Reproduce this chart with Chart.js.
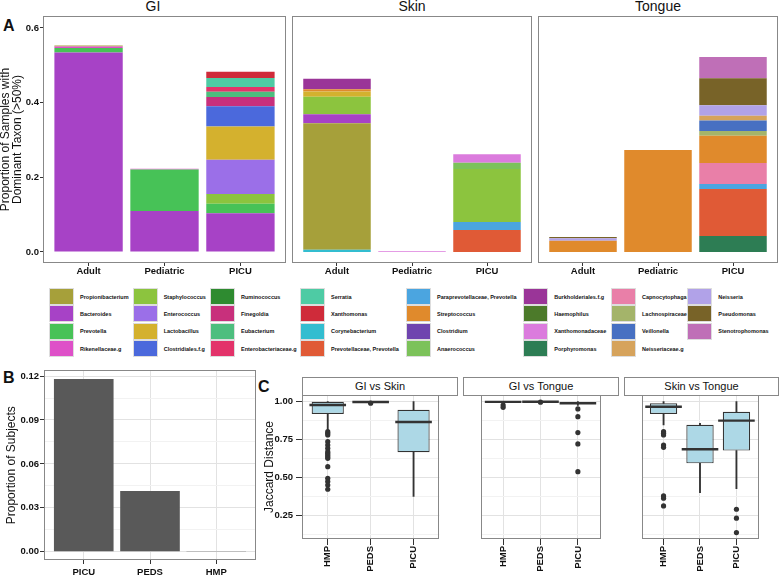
<!DOCTYPE html>
<html>
<head>
<meta charset="utf-8">
<script src="https://cdn.jsdelivr.net/npm/chart.js@4.4.0/dist/chart.umd.min.js"></script>
<style>
    body { margin: 0; background: #fff; }
    #fig { position: relative; width: 779px; height: 577px; overflow: hidden; font-family: 'Liberation Sans', Arial, Helvetica, sans-serif; color: #111; }
    #fig canvas { position: absolute; }
    .tag { position: absolute; font-size: 16px; font-weight: bold; line-height: 18px; }
    .facet { position: absolute; width: 100px; text-align: center; font-size: 14px; line-height: 14px; }
    .strip { position: absolute; top: 377px; height: 19px; box-sizing: border-box; border: 1px solid #888; background: #fff; text-align: center; font-size: 11px; line-height: 17px; }
    #legend { position: absolute; left: 49px; top: 288px; display: grid; grid-auto-flow: column; grid-template-rows: repeat(4, 17.33px); grid-template-columns: 83.7px 77.3px 90px 106px 117.3px 87.7px 76.3px 80px; }
    .item { display: flex; align-items: center; }
    .key { width: 25px; height: 17px; box-sizing: border-box; border: 1px solid #ddd; flex: none; }
    .name { margin-left: 6px; font-size: 5.5px; font-weight: bold; white-space: nowrap; }
</style>
</head>
<body>
<div id="fig">
    <div class="tag" style="left:3px;top:17px">A</div>
    <div class="tag" style="left:3px;top:369px">B</div>
    <div class="tag" style="left:258px;top:378px">C</div>
    <div class="facet" style="left:103px;top:-1px">GI</div>
    <div class="facet" style="left:362px;top:-1px">Skin</div>
    <div class="facet" style="left:608px;top:-1px">Tongue</div>
    <div class="strip" style="left:302px;width:156px">GI vs Skin</div>
    <div class="strip" style="left:463px;width:156px">GI vs Tongue</div>
    <div class="strip" style="left:624px;width:155px">Skin vs Tongue</div>
    <div id="legend"></div>
</div>
<script>
// ---- panel A: dominant taxon per site ----
const groups = ['Adult', 'Pediatric', 'PICU'];
const aTickValues = [0, 0.2, 0.4, 0.6];
const aTickLabels = ['0.0', '0.2', '0.4', '0.6'];

const taxa = [
    'Propionibacterium', 'Bacteroides', 'Prevotella', 'Rikenellaceae.g',
    'Staphylococcus', 'Enterococcus', 'Lactobacillus', 'Clostridiales.f.g',
    'Ruminococcus', 'Finegoldia', 'Eubacterium', 'Enterobacteriaceae.g',
    'Serratia', 'Xanthomonas', 'Corynebacterium', 'Prevotellaceae, Prevotella',
    'Paraprevotellaceae, Prevotella', 'Streptococcus', 'Clostridium', 'Anaerococcus',
    'Burkholderiales.f.g', 'Haemophilus', 'Xanthomonadaceae', 'Porphyromonas',
    'Capnocytophaga', 'Lachnospiraceae.g', 'Veillonella', 'Neisseriaceae.g',
    'Neisseria', 'Pseudomonas', 'Stenotrophomonas'
];
const taxonColors = [
    '#A6A03A', '#A742C6', '#47C257', '#DE50C8',
    '#8CC43E', '#9B6FE8', '#D4B12E', '#4B69DC',
    '#2E8B30', '#C8307C', '#4DBE7E', '#E3336A',
    '#4ECBA4', '#CF2B3A', '#33BDD0', '#E05A36',
    '#4BA5E0', '#E08A2C', '#6F44AF', '#7CC25A',
    '#9A3598', '#4C7A2A', '#DB7BDD', '#2D7D54',
    '#E97FA8', '#A4B46A', '#4770C2', '#D6A35C',
    '#B1A2E8', '#786328', '#BF6FB7'
];

// stacked bottom to top: [taxon, Adult, Pediatric, PICU]
const giLayers = [
    ['Bacteroides', 0.534, 0.110, 0.104],
    ['Prevotella', 0.012, 0.111, 0.025],
    ['Rikenellaceae.g', 0.004, 0.002, 0],
    ['Propionibacterium', 0.003, 0, 0],
    ['Staphylococcus', 0, 0, 0.026],
    ['Enterococcus', 0, 0, 0.092],
    ['Lactobacillus', 0, 0, 0.089],
    ['Clostridiales.f.g', 0, 0, 0.054],
    ['Finegoldia', 0, 0, 0.025],
    ['Eubacterium', 0, 0, 0.014],
    ['Enterobacteriaceae.g', 0, 0, 0.013],
    ['Serratia', 0, 0, 0.024],
    ['Xanthomonas', 0, 0, 0.017]
];
const skinLayers = [
    ['Corynebacterium', 0.006, 0, 0],
    ['Prevotellaceae, Prevotella', 0, 0, 0.059],
    ['Paraprevotellaceae, Prevotella', 0, 0, 0.021],
    ['Propionibacterium', 0.339, 0, 0],
    ['Bacteroides', 0.024, 0, 0],
    ['Staphylococcus', 0.047, 0, 0.142],
    ['Anaerococcus', 0, 0, 0.017],
    ['Lactobacillus', 0.014, 0, 0],
    ['Streptococcus', 0.006, 0, 0],
    ['Burkholderiales.f.g', 0.028, 0, 0],
    ['Xanthomonadaceae', 0, 0.002, 0.023]
];
const tongueLayers = [
    ['Porphyromonas', 0, 0, 0.043],
    ['Prevotellaceae, Prevotella', 0, 0, 0.126],
    ['Paraprevotellaceae, Prevotella', 0, 0, 0.013],
    ['Capnocytophaga', 0, 0, 0.056],
    ['Streptococcus', 0.030, 0.273, 0.073],
    ['Lachnospiraceae.g', 0, 0, 0.013],
    ['Veillonella', 0, 0, 0.028],
    ['Neisseriaceae.g', 0, 0, 0.013],
    ['Neisseria', 0.007, 0, 0.028],
    ['Pseudomonas', 0.003, 0, 0.072],
    ['Stenotrophomonas', 0, 0, 0.057]
];

// ---- panel B ----
const bGroups = ['PICU', 'PEDS', 'HMP'];
const bValues = [0.118, 0.0415, 0.0005];
const bTickValues = [0, 0.03, 0.06, 0.09, 0.12];
const bTickLabels = ['0.00', '0.03', '0.06', '0.09', '0.12'];

// ---- panel C: [lower whisker, q1, median, q3, upper whisker] per group ----
const cGroups = ['HMP', 'PEDS', 'PICU'];
const cTickValues = [0.25, 0.5, 0.75, 1.0];
const cTickLabels = ['0.25', '0.50', '0.75', '1.00'];

const giSkinStats = [[0.81, 0.919, 0.978, 1.0, 1.0], [0.993, 0.996, 0.998, 1.0, 1.0], [0.374, 0.666, 0.866, 0.947, 1.0]];
const giSkinOutliers = [[0.802, 0.791, 0.78, 0.736, 0.714, 0.692, 0.67, 0.659, 0.648, 0.637, 0.626, 0.571, 0.494, 0.473, 0.45, 0.422], [0.99], []];
const giTongueStats = [[0.985, 0.995, 0.999, 1.0, 1.0], [0.997, 0.999, 1.0, 1.0, 1.0], [0.975, 0.985, 0.99, 0.995, 1.0]];
const giTongueOutliers = [[0.978, 0.963], [0.997], [0.952, 0.901, 0.796, 0.721, 0.538]];
const skinTongueStats = [[0.846, 0.919, 0.967, 0.989, 1.0], [0.40, 0.593, 0.686, 0.848, 0.857], [0.426, 0.677, 0.875, 0.934, 1.0]];
const skinTongueOutliers = [[0.802, 0.791, 0.78, 0.714, 0.699, 0.378, 0.363, 0.312], [], [0.29, 0.231, 0.136]];

Chart.defaults.font.family = "'Liberation Sans', Arial, Helvetica, sans-serif";
Chart.defaults.font.size = 9.5;
Chart.defaults.font.weight = 'bold';
Chart.defaults.color = '#111';
Chart.defaults.animation = false;
Chart.defaults.events = [];
Chart.defaults.plugins.legend.display = false;
Chart.defaults.plugins.tooltip.enabled = false;

const fig = document.getElementById('fig');

// grey frame round the plotting area, like the ggplot panel border
const panelBorder = {
    id: 'panelBorder',
    afterDatasetsDraw(chart) {
        const { ctx, chartArea: a } = chart;
        ctx.save();
        ctx.strokeStyle = '#888';
        ctx.lineWidth = 1;
        ctx.strokeRect(Math.round(a.left) + 0.5, Math.round(a.top) + 0.5,
            Math.round(a.right - a.left) - 1, Math.round(a.bottom - a.top) - 1);
        ctx.restore();
    }
};

function addCanvas(left, top, w, h) {
    const c = document.createElement('canvas');
    c.width = w;
    c.height = h;
    c.style.left = left + 'px';
    c.style.top = top + 'px';
    c.style.width = w + 'px';
    c.style.height = h + 'px';
    fig.appendChild(c);
    return c;
}

function fixedTicks(values, labels, withMinor) {
    return scale => {
        const t = values.map((v, i) => ({ value: v, text: labels[i], minor: false }));
        if (withMinor) {
            const step = values[1] - values[0];
            [values[0] - step / 2].concat(values.map(v => v + step / 2))
                .filter(v => v > scale.min && v < scale.max)
                .forEach(v => t.push({ value: v, text: '', minor: true }));
        }
        t.sort((p, q) => p.value - q.value);
        scale.ticks = t;
    };
}

const tickText = (v, i, t) => t[i].text;
const gridColor = c => (c.tick && c.tick.minor ? '#F2F2F2' : '#E2E2E2');
const tickMarkColor = c => (c.tick && c.tick.minor ? 'rgba(0,0,0,0)' : '#333');
const titleFont = { size: 12, lineHeight: 1, weight: 'normal' };

function categoryAxis(labels, o) {
    return {
        type: 'linear', min: 0.4, max: 3.6, offset: false, stacked: o.stacked,
        afterBuildTicks: fixedTicks([1, 2, 3], labels, false),
        afterFit: s => { s.height = o.height; },
        ticks: { autoSkip: false, minRotation: o.rotate || 0, maxRotation: o.rotate || 0, padding: o.pad, callback: tickText },
        grid: { offset: false, drawOnChartArea: o.grid, color: '#E2E2E2', tickLength: o.tick, tickColor: '#333' },
        border: { display: false }
    };
}

function stackedFacet(canvas, layers, o) {
    const datasets = layers.map(row => ({
        label: row[0],
        data: groups.map((g, i) => ({ x: i + 1, y: row[i + 1] })),
        backgroundColor: taxonColors[taxa.indexOf(row[0])],
        borderWidth: 0,
        barPercentage: 0.9,
        categoryPercentage: 1
    }));
    return new Chart(canvas, {
        type: 'bar',
        data: { datasets },
        plugins: [panelBorder],
        options: {
            responsive: false,
            layout: { padding: o.padding },
            scales: {
                x: categoryAxis(groups, { stacked: true, height: 22, pad: 0, tick: 3, grid: false }),
                y: {
                    type: 'linear', min: -0.0295, max: 0.632, stacked: true, display: o.showY,
                    afterBuildTicks: fixedTicks(aTickValues, aTickLabels, false),
                    afterFit: s => { s.width = o.showY ? 43 : 0; },
                    ticks: { padding: 1, callback: tickText },
                    title: {
                        display: true, text: ['Proportion of Samples with', 'Dominant Taxon (>50%)'],
                        font: titleFont, padding: 0
                    },
                    grid: { drawOnChartArea: false, tickLength: 3, tickColor: '#333' },
                    border: { display: false }
                }
            }
        }
    });
}

stackedFacet(addCanvas(0, 0, 290, 285), giLayers, { showY: true, padding: { top: 16, right: 4, left: 0, bottom: 0 } });
stackedFacet(addCanvas(290, 0, 245, 285), skinLayers, { showY: false, padding: { top: 16, right: 3, left: 2, bottom: 0 } });
stackedFacet(addCanvas(535, 0, 244, 285), tongueLayers, { showY: false, padding: { top: 16, right: 1, left: 3, bottom: 0 } });

// legend, filled column by column like the figure
const legend = document.getElementById('legend');
taxa.forEach((name, i) => {
    const item = document.createElement('div');
    item.className = 'item';
    item.innerHTML = '<span class="key" style="background:' + taxonColors[i] + '"></span><span class="name">' + name + '</span>';
    legend.appendChild(item);
});

// panel B
new Chart(addCanvas(0, 360, 262, 217), {
    type: 'bar',
    data: {
        datasets: [{
            data: bGroups.map((g, i) => ({ x: i + 1, y: bValues[i] })),
            backgroundColor: '#595959',
            borderWidth: 0,
            barPercentage: 0.9,
            categoryPercentage: 1
        }]
    },
    plugins: [panelBorder],
    options: {
        responsive: false,
        layout: { padding: { top: 10.4, right: 6, left: 0, bottom: 0 } },
        scales: {
            x: categoryAxis(bGroups, { stacked: false, height: 17, pad: 3, tick: 4, grid: true }),
            y: {
                type: 'linear', min: -0.0057, max: 0.1239,
                afterBuildTicks: fixedTicks(bTickValues, bTickLabels, true),
                afterFit: s => { s.width = 44; },
                ticks: { padding: 1, autoSkip: false, callback: tickText },
                title: { display: true, text: 'Proportion of Subjects', font: titleFont, padding: { top: 6 } },
                grid: { color: gridColor, tickLength: 4, tickColor: tickMarkColor },
                border: { display: false }
            }
        }
    }
});

// panel C: boxplots built from floating bars and points
function boxFacet(canvas, stats, outliers, o) {
    const at = (s, f) => s.map((v, i) => ({ x: i + 1, y: f(v) }));
    const points = outliers.flatMap((arr, i) => arr.map(v => ({ x: i + 1, y: v })));
    return new Chart(canvas, {
        type: 'bar',
        data: {
            datasets: [
                { type: 'scatter', data: points, pointRadius: 2.6, pointBackgroundColor: '#333', pointBorderWidth: 0 },
                { type: 'scatter', data: at(stats, s => s[2]), pointStyle: 'line', pointRadius: 18.3, pointBorderColor: '#333', pointBorderWidth: 2.4 },
                { data: at(stats, s => [s[1], s[3]]), backgroundColor: '#ADD8E6', borderColor: '#333', borderWidth: 1.2,
                  borderSkipped: false, grouped: false, barPercentage: 0.75, categoryPercentage: 1 },
                { data: at(stats, s => [s[0], s[1]]), backgroundColor: '#333', borderWidth: 0, barThickness: 1.2, grouped: false },
                { data: at(stats, s => [s[3], s[4]]), backgroundColor: '#333', borderWidth: 0, barThickness: 1.2, grouped: false }
            ]
        },
        plugins: [panelBorder],
        options: {
            responsive: false,
            layout: { padding: o.padding },
            scales: {
                x: categoryAxis(cGroups, { stacked: false, height: 38, pad: 1, tick: 6, grid: true, rotate: 90 }),
                y: {
                    type: 'linear', min: 0.0936, max: 1.0442,
                    afterBuildTicks: fixedTicks(cTickValues, cTickLabels, true),
                    afterFit: s => { s.width = o.yWidth; },
                    ticks: { display: o.showY, padding: 3, autoSkip: false, callback: tickText },
                    title: { display: o.showY, text: 'Jaccard Distance', font: titleFont, padding: { top: 2 } },
                    grid: { color: gridColor, drawTicks: o.showY, tickLength: 6, tickColor: tickMarkColor },
                    border: { display: false }
                }
            }
        }
    });
}

boxFacet(addCanvas(262, 372, 198, 205), giSkinStats, giSkinOutliers, { showY: true, yWidth: 40, padding: { top: 23, right: 2, left: 0, bottom: 0 } });
boxFacet(addCanvas(460, 372, 161, 205), giTongueStats, giTongueOutliers, { showY: false, yWidth: 0, padding: { top: 23, right: 2, left: 3, bottom: 0 } });
boxFacet(addCanvas(621, 372, 158, 205), skinTongueStats, skinTongueOutliers, { showY: false, yWidth: 0, padding: { top: 23, right: 1, left: 3, bottom: 0 } });
</script>
</body>
</html>
